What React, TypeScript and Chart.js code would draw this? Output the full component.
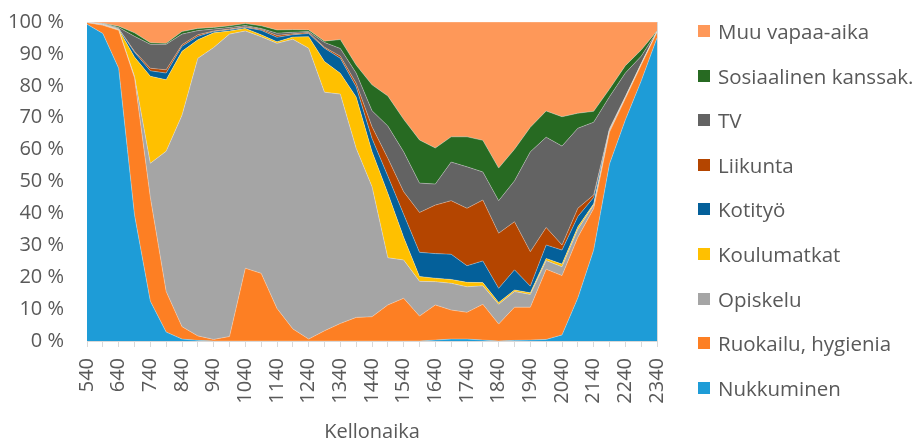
import React, { useEffect, useRef } from "react";
import { Chart, registerables } from "chart.js";

Chart.register(...registerables);

const categories = [
  "540", "610", "640", "710", "740", "810", "840", "910", "940", "1010",
  "1040", "1110", "1140", "1210", "1240", "1310", "1340", "1410", "1440", "1510",
  "1540", "1610", "1640", "1710", "1740", "1810", "1840", "1910", "1940", "2010",
  "2040", "2110", "2140", "2210", "2240", "2310", "2340",
];

const nukkuminen = [99.3, 96.4, 85.5, 39.5, 12.5, 2.8, 0.6, 0.2, 0, 0, 0, 0, 0, 0, 0, 0, 0, 0, 0, 0, 0, 0, 0.3, 0.6, 0.6, 0.3, 0, 0.2, 0.3, 0.5, 1.9, 13.5, 28.5, 55.5, 69.3, 81.5, 95.0];
const ruokailu = [0.5, 2.6, 11.9, 43.0, 32.5, 12.7, 3.9, 1.4, 0.5, 1.4, 22.8, 21.2, 10.2, 3.8, 0.6, 3.2, 5.5, 7.4, 7.6, 11.3, 13.4, 7.8, 11.0, 9.1, 8.4, 11.2, 5.3, 10.4, 10.3, 22.0, 18.6, 19.0, 13.0, 10.0, 6.7, 5.0, 1.8];
const opiskelu = [0.1, 0.2, 0.2, 0.5, 10.7, 44.0, 66.3, 87.0, 91.5, 94.8, 74.4, 74.2, 83.1, 90.8, 91.2, 74.8, 71.9, 53.0, 40.8, 14.8, 12.0, 10.9, 7.3, 8.4, 8.0, 5.8, 6.2, 4.9, 4.0, 2.7, 2.8, 2.5, 1.1, 0.5, 0.3, 0.2, 0.1];
const koulumatkat = [0, 0, 0.1, 6.0, 27.3, 22.4, 20.0, 5.8, 4.6, 1.0, 0.8, 0.6, 0.5, 0.7, 3.6, 9.6, 6.5, 16.1, 11.0, 20.2, 7.1, 1.5, 1.1, 1.2, 1.4, 1.0, 0.6, 0.5, 0.5, 0.7, 0.8, 0.8, 0.4, 0.1, 0.1, 0.1, 0];
const kotityo = [0, 0.1, 0.2, 1.5, 1.7, 2.1, 1.6, 1.1, 0.4, 0.4, 0.3, 1.4, 1.4, 0.7, 1.0, 4.2, 4.7, 3.2, 4.1, 5.4, 7.2, 7.6, 7.7, 7.9, 5.2, 6.8, 4.4, 6.3, 2.1, 4.2, 4.4, 3.2, 2.0, 0.2, 0.1, 0.1, 0.1];
const liikunta = [0, 0.1, 0.1, 0.3, 0.8, 1.0, 0.5, 0.5, 0.2, 0.2, 0.2, 0.3, 0.6, 0.3, 0.3, 0.3, 0.7, 1.1, 3.7, 5.6, 7.1, 12.5, 15.2, 16.8, 18.0, 19.1, 17.3, 15.1, 10.8, 5.5, 1.6, 2.6, 0.8, 0.3, 0.1, 0.1, 0];
const tv = [0, 0.1, 0.3, 4.7, 7.5, 8.0, 3.3, 1.3, 0.6, 0.5, 0.4, 0.3, 0.7, 0.5, 0.3, 1.5, 2.4, 3.2, 5.0, 10.1, 12.5, 9.2, 6.6, 12.1, 13.0, 8.8, 10.2, 12.8, 31.3, 28.3, 31.0, 25.1, 22.8, 10.0, 7.4, 2.3, 0];
const sosiaalinen = [0, 0.1, 0.4, 1.1, 0.5, 0.3, 0.8, 0.7, 0.5, 0.5, 0.6, 0.8, 1.0, 0.8, 0.5, 0.4, 2.8, 2.5, 8.1, 9.4, 10.2, 13.5, 11.3, 7.9, 9.4, 9.9, 10.2, 9.9, 7.7, 8.2, 9.2, 4.7, 3.4, 2.4, 2.3, 1.9, 0.2];
const muuVapaaAika = [0.1, 0.4, 1.3, 3.4, 6.5, 6.7, 3.0, 2.0, 1.7, 1.2, 0.5, 1.2, 2.5, 2.4, 2.5, 6.0, 5.5, 13.5, 19.7, 23.2, 30.5, 37.0, 39.5, 36.0, 36.0, 37.1, 45.8, 39.9, 33.0, 27.9, 29.7, 28.6, 28.0, 21.0, 13.7, 8.8, 2.8];

const yTicks = [0, 10, 20, 30, 40, 50, 60, 70, 80, 90, 100];

const seriesNames = [
  "Nukkuminen", "Ruokailu, hygienia", "Opiskelu", "Koulumatkat", "Kotityö",
  "Liikunta", "TV", "Sosiaalinen kanssak.", "Muu vapaa-aika",
];
const seriesValues = [nukkuminen, ruokailu, opiskelu, koulumatkat, kotityo, liikunta, tv, sosiaalinen, muuVapaaAika];
const seriesColors = ["#1E9CD7", "#FD7F23", "#A5A5A5", "#FFC000", "#04609A", "#B44500", "#636363", "#276A22", "#FE9859"];

const FONT = "'Open Sans', sans-serif";
const TEXT = "#595959";

export default function App() {
  const ref = useRef<HTMLCanvasElement | null>(null);

  useEffect(() => {
    if (!ref.current) return;
    // 100 % stacked: share of each series per category
    const totals = categories.map((_, i) => seriesValues.reduce((s, arr) => s + arr[i], 0));
    const datasets = seriesValues.map((arr, k) => ({
      label: seriesNames[k],
      data: arr.map((v, i) => (v / totals[i]) * 100),
      backgroundColor: seriesColors[k],
      borderColor: "rgba(255,255,255,0.4)",
      borderWidth: 0.75,
      pointRadius: 0,
      tension: 0,
      fill: k === 0 ? "origin" : "-1",
    }));
    const chart = new Chart(ref.current, {
      type: "line",
      data: { labels: categories, datasets },
      options: {
        animation: false,
        responsive: false,
        layout: { padding: { top: 22, right: 256, bottom: 0, left: 0 } },
        plugins: { legend: { display: false }, tooltip: { enabled: false } },
        scales: {
          x: {
            offset: false,
            grid: { color: "#D9D9D9", tickLength: 6, drawOnChartArea: true },
            border: { color: "#D9D9D9" },
            ticks: {
              autoSkip: false,
              minRotation: 90,
              maxRotation: 90,
              padding: 11,
              color: TEXT,
              font: { family: FONT, size: 20 },
              callback: (_v: any, i: number) => (i % 2 === 0 ? categories[i] : ""),
            },
            title: {
              display: true,
              text: "Kellonaika",
              color: TEXT,
              font: { family: FONT, size: 20, lineHeight: 1 },
              padding: { top: 0, bottom: 0 },
            },
            afterFit: (s: any) => { s.height = 101; },
          },
          y: {
            stacked: true,
            min: 0,
            max: 100,
            afterBuildTicks: (s: any) => { s.ticks = yTicks.map((v) => ({ value: v })); },
            grid: { color: "#D9D9D9", drawTicks: true, tickLength: 23, tickColor: "rgba(0,0,0,0)" },
            border: { display: false },
            ticks: {
              padding: 0,
              color: TEXT,
              font: { family: FONT, size: 20 },
              callback: (v: any) => `${v} %`,
            },
            afterFit: (s: any) => { s.width = 87; },
          },
        },
      },
    });
    return () => chart.destroy();
  }, []);

  const legendOrder = [...seriesNames.keys()].reverse();
  const legendTop = 31;
  const legendStep = 44.6;

  return (
    <div style={{ position: "fixed", left: 0, top: 0, width: 913, height: 442, background: "#fff" }}>
      <canvas ref={ref} width={913} height={442} style={{ position: "absolute", left: 0, top: 0 }} />
      {legendOrder.map((k, j) => (
        <div
          key={k}
          style={{
            position: "absolute",
            left: 698,
            top: legendTop + j * legendStep - 14,
            height: 28,
            display: "flex",
            alignItems: "center",
            fontFamily: FONT,
            fontSize: 20.5,
            color: TEXT,
            whiteSpace: "nowrap",
          }}
        >
          <span style={{ display: "inline-block", width: 12, height: 12, background: seriesColors[k], marginRight: 8 }} />
          <span>{seriesNames[k]}</span>
        </div>
      ))}
    </div>
  );
}
